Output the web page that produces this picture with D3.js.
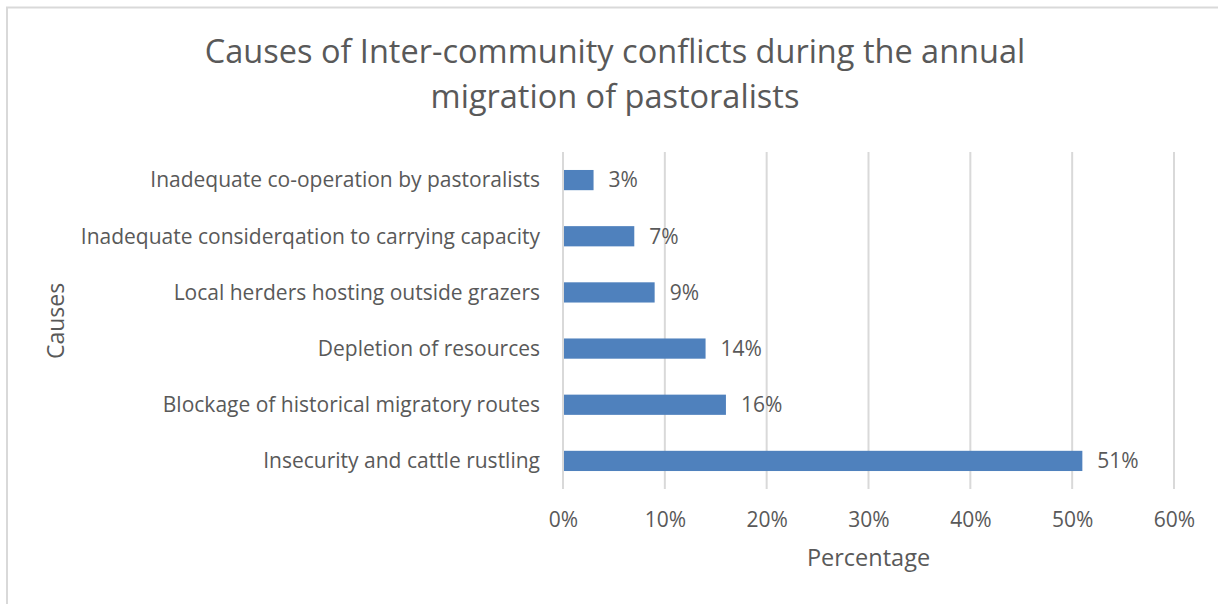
<!DOCTYPE html>
<html>
<head>
<meta charset="utf-8">
<script src="https://cdn.jsdelivr.net/npm/d3@7"></script>
<style>
  body { margin: 0; background: #fff; }
  text { font-family: "Open Sans", Lato, sans-serif; fill: #595959; }
</style>
</head>
<body>
<div id="chart"></div>
<script>
// data (bottom to top order as in Excel)
const causes = [
    "Insecurity and cattle rustling",
    "Blockage of historical migratory routes",
    "Depletion of resources",
    "Local herders hosting outside grazers",
    "Inadequate considerqation to carrying capacity",
    "Inadequate co-operation by pastoralists"
];
const percents = [0.51, 0.16, 0.14, 0.09, 0.07, 0.03];
const xTicks = [0, 0.1, 0.2, 0.3, 0.4, 0.5, 0.6];
const titleLines = ["Causes of Inter-community conflicts during the annual", "migration of pastoralists"];

const W = 1218, H = 604;
const margin = { top: 152, right: 44, bottom: 115, left: 563 };
const width = W - margin.left - margin.right,
    height = H - margin.top - margin.bottom;

const svg = d3.select("#chart")
    .append("svg")
    .attr("width", W)
    .attr("height", H);

// chart border
svg.append("rect")
    .attr("x", 7).attr("y", 7.5)
    .attr("width", W + 20).attr("height", H + 20)
    .attr("fill", "none")
    .attr("stroke", "#d9d9d9")
    .attr("stroke-width", 2);

const chart = svg.append("g")
    .attr("transform", `translate(${margin.left},${margin.top})`);

const x = d3.scaleLinear().domain([0, 0.6]).range([0, width]);
const y = d3.scaleBand()
    .domain(causes)
    .range([height, 0])
    .paddingInner(0.64)
    .paddingOuter(0.32);

// gridlines
chart.selectAll(".grid")
    .data(xTicks)
    .enter()
    .append("line")
    .attr("x1", d => x(d)).attr("x2", d => x(d))
    .attr("y1", 0).attr("y2", height)
    .attr("stroke", "#d9d9d9")
    .attr("stroke-width", 2);

// bars
chart.selectAll(".bar")
    .data(causes)
    .enter()
    .append("rect")
    .attr("x", x(0) + 1)
    .attr("y", d => y(d))
    .attr("width", (d, i) => x(percents[i]) - x(0) - 1)
    .attr("height", y.bandwidth())
    .attr("fill", "#4f81bd");

// value labels
chart.selectAll(".label")
    .data(causes)
    .enter()
    .append("text")
    .attr("x", (d, i) => x(percents[i]) + 15)
    .attr("y", d => y(d) + y.bandwidth() / 2)
    .attr("dy", "0.35em")
    .attr("font-size", "21px")
    .text((d, i) => d3.format(".0%")(percents[i]));

// category labels
chart.selectAll(".cat")
    .data(causes)
    .enter()
    .append("text")
    .attr("x", -23)
    .attr("y", d => y(d) + y.bandwidth() / 2)
    .attr("dy", "0.35em")
    .attr("text-anchor", "end")
    .attr("font-size", "21px")
    .text(d => d);

// x axis tick labels
const xAxis = chart.append("g")
    .attr("transform", `translate(0,${height})`)
    .call(d3.axisBottom(x).tickValues(xTicks).tickFormat(d3.format(".0%")).tickSize(0).tickPadding(23));
xAxis.select(".domain").remove();
xAxis.selectAll("text")
    .attr("font-size", "21px")
    .attr("font-family", null)
    .attr("fill", "#595959");

// axis titles
svg.append("text")
    .attr("x", margin.left + width / 2)
    .attr("y", 566)
    .attr("text-anchor", "middle")
    .attr("font-size", "23.5px")
    .text("Percentage");

svg.append("text")
    .attr("transform", "translate(64,321) rotate(-90)")
    .attr("text-anchor", "middle")
    .attr("font-size", "23px")
    .text("Causes");

// title
svg.selectAll(".title")
    .data(titleLines)
    .enter()
    .append("text")
    .attr("x", 615)
    .attr("y", (d, i) => 63 + i * 45)
    .attr("text-anchor", "middle")
    .attr("font-size", "32.5px")
    .text(d => d);
</script>
</body>
</html>
